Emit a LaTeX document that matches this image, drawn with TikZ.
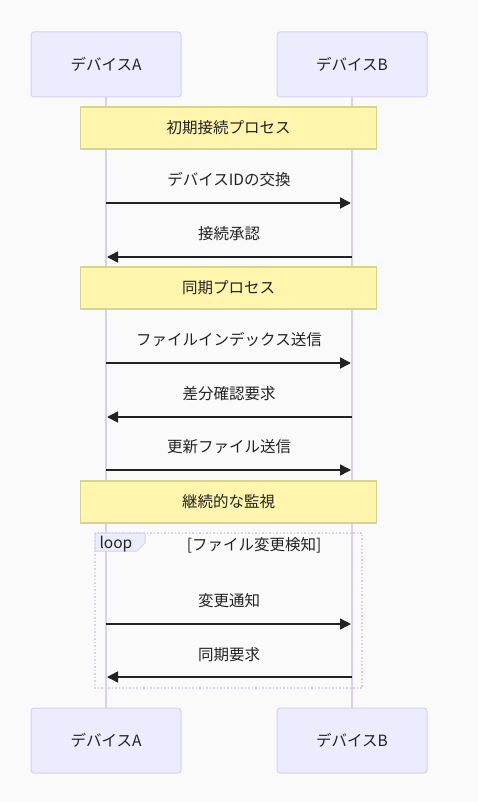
\documentclass[tikz,border=0pt]{standalone}
\usepackage{fontspec}
\setmainfont{Noto Sans CJK JP}
\usepackage{tikz}
\usetikzlibrary{arrows.meta}

\definecolor{bgcol}{HTML}{FAFAFA}
\definecolor{actorfill}{HTML}{ECECFF}
\definecolor{actorline}{HTML}{DACEF3}
\definecolor{notefill}{HTML}{FFF5AD}
\definecolor{noteline}{HTML}{D6D38A}
\definecolor{txt}{HTML}{222222}

\tikzset{
  actor/.style={rectangle,rounded corners=3pt,draw=actorline,fill=actorfill,line width=1pt,minimum width=150pt,minimum height=65pt,font=\fontsize{15.5}{18}\selectfont,text=txt},
  note/.style={rectangle,draw=noteline,fill=notefill,line width=1.5pt,minimum width=296pt,minimum height=42pt,font=\fontsize{15.5}{18}\selectfont,text=txt},
  lbl/.style={font=\fontsize{15.5}{18}\selectfont,text=txt},
  msg/.style={draw=txt,line width=1.5pt,-{Triangle[length=11pt,width=11pt]}},
  life/.style={draw=actorline,line width=1.5pt},
}

\begin{document}
\begin{tikzpicture}[x=1pt,y=-1pt]

      \fill[bgcol] (0,0) rectangle (478,802);
      \useasboundingbox (0,0) rectangle (478,802);

      \node[actor] (A) at (106,64.5){デバイスA};
      \node[actor] (B) at (352,64.5){デバイスB};
      \node[actor] (A2) at (106,740.5){デバイスA};
      \node[actor] (B2) at (352,740.5){デバイスB};

      \draw[life] (A) -- (A2);
      \draw[life] (B) -- (B2);

      % loop frame
      \draw[actorline,line width=1.5pt,dotted] (95,533) rectangle (362,688);
      \draw[actorline,fill=actorfill,line width=1pt] (95,533) -- (145,533) -- (145,543) -- (137,551) -- (95,551) -- cycle;
      \node[lbl,anchor=west] (loop) at (96,544){loop};
      \node[lbl] (cond) at (254,545){[ファイル変更検知]};

      \node[note] (n1) at (228.5,128){初期接続プロセス};
      \node[note] (n2) at (228.5,288){同期プロセス};
      \node[note] (n3) at (228.5,502){継続的な監視};

      \coordinate (a1) at (106,203);  \coordinate (b1) at (351,203);
      \coordinate (a2) at (107,257);  \coordinate (b2) at (352,257);
      \coordinate (a3) at (106,363);  \coordinate (b3) at (351,363);
      \coordinate (a4) at (107,417);  \coordinate (b4) at (352,417);
      \coordinate (a5) at (106,470);  \coordinate (b5) at (351,470);
      \coordinate (a6) at (106,624);  \coordinate (b6) at (351,624);
      \coordinate (a7) at (107,677);  \coordinate (b7) at (352,677);

      \node[lbl] (m1) at (229,180){デバイスIDの交換};
      \node[lbl] (m2) at (229,234){接続承認};
      \node[lbl] (m3) at (229,340){ファイルインデックス送信};
      \node[lbl] (m4) at (229,394){差分確認要求};
      \node[lbl] (m5) at (229,447){更新ファイル送信};
      \node[lbl] (m6) at (229,601){変更通知};
      \node[lbl] (m7) at (229,655){同期要求};

      \draw[msg] (a1) -- (b1);
      \draw[msg] (b2) -- (a2);
      \draw[msg] (a3) -- (b3);
      \draw[msg] (b4) -- (a4);
      \draw[msg] (a5) -- (b5);
      \draw[msg] (a6) -- (b6);
      \draw[msg] (b7) -- (a7);

    \end{tikzpicture}
\end{document}
